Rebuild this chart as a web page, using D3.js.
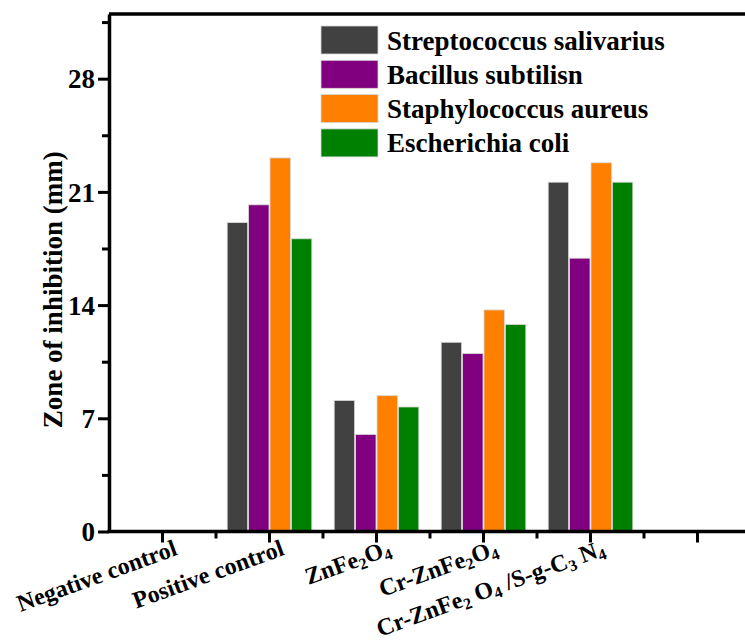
<!DOCTYPE html>
<html>
<head>
<meta charset="utf-8">
<script src="https://cdn.jsdelivr.net/npm/d3@7"></script>
<style>
  html, body { margin: 0; padding: 0; background: #fff; }
  svg { display: block; }
  text { font-family: "Liberation Serif", "Times New Roman", serif; font-weight: bold; fill: #000; }
</style>
</head>
<body>
<svg id="chart" width="745" height="643"></svg>
<script>
// ---- data ----
const categories = ["Negative control", "Positive control", "ZnFe2O4", "Cr-ZnFe2O4", "Cr-ZnFe2O4/S-g-C3N4", ""];
const seriesNames = ["Streptococcus salivarius", "Bacillus subtilisn", "Staphylococcus aureus", "Escherichia coli"];
const streptococcus = [0, 19.1, 8.1, 11.7, 21.6, null];
const bacillus      = [0, 20.2, 6.0, 11.0, 16.9, null];
const staphylococcus= [0, 23.1, 8.4, 13.7, 22.8, null];
const escherichia   = [0, 18.1, 7.7, 12.8, 21.6, null];
const seriesColors = ["#414141", "#800080", "#ff8000", "#008000"];
const yMajorTicks = [0, 7, 14, 21, 28];
const yMinorTicks = [3.5, 10.5, 17.5, 24.5, 31.5];
// label pieces: [text, isSub]
const xLabelParts = [
  [["Negative control", false]],
  [["Positive control", false]],
  [["ZnFe", false], ["2", true], ["O", false], ["4", true]],
  [["Cr-ZnFe", false], ["2", true], ["O", false], ["4", true]],
  [["Cr-ZnFe", false], ["2", true], [" O", false], ["4", true], [" /S-g-C", false], ["3", true], [" N", false], ["4", true]],
  []
];

const seriesValues = [streptococcus, bacillus, staphylococcus, escherichia];

(function () {
// ---- layout ----
const svg = d3.select("#chart");
const leftX = 109, bottomY = 531.5, topY = 14, bandW = 107;
const x0 = d3.scaleBand().domain(d3.range(categories.length)).range([leftX, leftX + bandW * categories.length]).padding(0);
const x1 = d3.scaleBand().domain(d3.range(seriesNames.length)).range([x0.bandwidth() * 0.1, x0.bandwidth() * 0.9]).padding(0);
const y = d3.scaleLinear().domain([0, 32]).range([bottomY, topY]);

svg.append("rect").attr("width", 745).attr("height", 643).attr("fill", "#fff");

// bars
const groups = svg.append("g").selectAll("g")
  .data(categories.map((c, i) => i))
  .join("g")
  .attr("transform", i => `translate(${x0(i)},0)`);
groups.selectAll("rect")
  .data(i => seriesValues.map((vals, s) => ({ s, v: vals[i] })).filter(d => d.v))
  .join("rect")
  .attr("x", d => x1(d.s) + 0.5)
  .attr("width", x1.bandwidth() - 1)
  .attr("y", d => y(d.v))
  .attr("height", d => y(0) - y(d.v))
  .attr("fill", d => seriesColors[d.s])
  .attr("stroke", "#d8d8d8")
  .attr("stroke-width", 0.8);

// top frame line
svg.append("line")
  .attr("x1", leftX).attr("x2", 745).attr("y1", y(32)).attr("y2", y(32))
  .attr("stroke", "#000").attr("stroke-width", 3.5);

// y axis minor
const yMinor = svg.append("g").attr("transform", `translate(${leftX},0)`)
  .call(d3.axisLeft(y).tickValues(yMinorTicks).tickSize(7).tickFormat(""));
yMinor.select(".domain").remove();
yMinor.selectAll("line").attr("stroke", "#000").attr("stroke-width", 3);

// y axis major
const yAxis = svg.append("g").attr("transform", `translate(${leftX},0)`)
  .call(d3.axisLeft(y).tickValues(yMajorTicks).tickSize(11).tickSizeOuter(0).tickPadding(3));
yAxis.select(".domain").attr("stroke", "#000").attr("stroke-width", 3.5);
yAxis.selectAll(".tick line").attr("stroke", "#000").attr("stroke-width", 3);
yAxis.selectAll(".tick text")
  .style("font-size", "27px")
  .style("font-family", "'Liberation Serif', 'Times New Roman', serif")
  .style("font-weight", "bold")
  .attr("dy", "0.34em");

// x axis
const xMajor = categories.map((c, i) => x0(i) + x0.bandwidth() / 2);
const xMinor = categories.slice(1).map((c, i) => x0(i + 1));
const xAxisG = svg.append("g").attr("transform", `translate(0,${bottomY})`);
xAxisG.append("line").attr("x1", leftX - 1.5).attr("x2", 745).attr("y1", 0).attr("y2", 0)
  .attr("stroke", "#000").attr("stroke-width", 3.5);
xAxisG.selectAll("line.major").data(xMajor).join("line").attr("class", "major")
  .attr("x1", d => d).attr("x2", d => d).attr("y1", 0).attr("y2", 11)
  .attr("stroke", "#000").attr("stroke-width", 3);
xAxisG.selectAll("line.minor").data(xMinor).join("line").attr("class", "minor")
  .attr("x1", d => d).attr("x2", d => d).attr("y1", 0).attr("y2", 7)
  .attr("stroke", "#000").attr("stroke-width", 3);

// x labels
const xl = svg.append("g");
xLabelParts.forEach((parts, i) => {
  if (!parts.length) return;
  const t = xl.append("text")
    .attr("transform", `translate(${xMajor[i] + 16},${bottomY + 23}) rotate(-20)`)
    .attr("text-anchor", "end")
    .style("font-size", "24px");
  let shifted = false;
  parts.forEach(([txt, sub]) => {
    const ts = t.append("tspan").text(txt);
    if (sub) {
      ts.style("font-size", "16px").attr("dy", shifted ? 0 : 4);
      shifted = true;
    } else if (shifted) {
      ts.attr("dy", -4);
      shifted = false;
    }
  });
});

// y label
svg.append("text")
  .attr("transform", `translate(62,${(topY + bottomY) / 2 + 17}) rotate(-90)`)
  .attr("text-anchor", "middle")
  .style("font-size", "27px")
  .text("Zone of inhibition (mm)");

// legend
const legend = svg.append("g");
seriesNames.forEach((name, s) => {
  const gy = 26 + s * 34.3;
  legend.append("rect").attr("x", 321).attr("y", gy).attr("width", 57).attr("height", 28)
    .attr("fill", seriesColors[s]).attr("stroke", "#d8d8d8").attr("stroke-width", 0.8);
  legend.append("text").attr("x", 387).attr("y", gy + 23.5)
    .style("font-size", "27px").text(name);
});
})();
</script>
</body>
</html>
